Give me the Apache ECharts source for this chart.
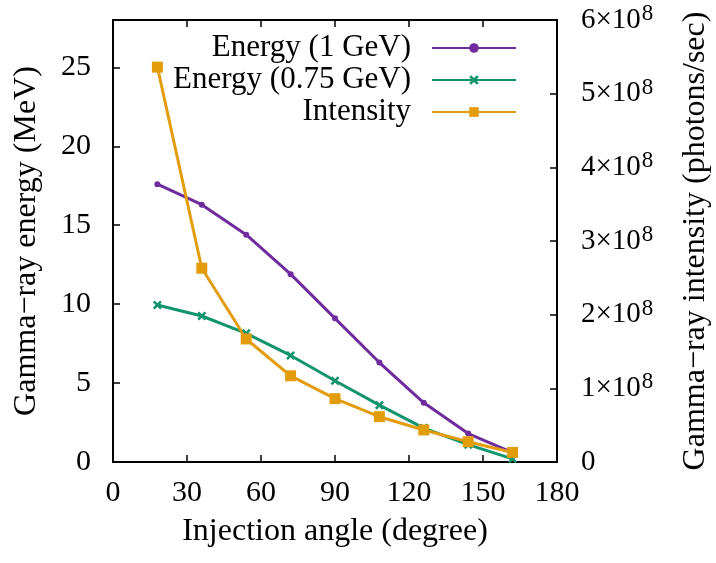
<!DOCTYPE html>
<html>
<head>
<meta charset="utf-8">
<script src="https://cdn.jsdelivr.net/npm/echarts@6/dist/echarts.min.js"></script>
<style>
html,body{margin:0;padding:0;background:#fff;}
#chart{width:716px;height:563px;}
</style>
</head>
<body>
<div id="chart"></div>
<script>
// Data
const angles = [18, 36, 54, 72, 90, 108, 126, 144, 162];
const energy1GeV = [17.6, 16.3, 14.4, 11.9, 9.1, 6.3, 3.75, 1.8, 0.6];
const energy075GeV = [9.95, 9.25, 8.15, 6.75, 5.15, 3.6, 2.15, 1.1, 0.2];
const intensity = [5.36e8, 2.63e8, 1.67e8, 1.17e8, 0.86e8, 0.615e8, 0.435e8, 0.275e8, 0.13e8];
const seriesNames = ['Energy (1 GeV)', 'Energy (0.75 GeV)', 'Intensity'];
const xTicks = [0, 30, 60, 90, 120, 150, 180];

const FONT = '"Liberation Serif", "DejaVu Serif", serif';
const purple = '#6e2c9e';
const green = '#12946c';
const orange = '#e39c0c';

function pairs(xs, ys) { return xs.map((x, i) => [x, ys[i]]); }

const crossPath = 'path://M0,2 L2,0 L5,3 L8,0 L10,2 L7,5 L10,8 L8,10 L5,7 L2,10 L0,8 L3,5 Z';

const tickStyle = {show: true, inside: true, length: 7, lineStyle: {color: '#000', width: 1.5}};
const lineStyleAxis = {show: true, onZero: false, lineStyle: {color: '#000', width: 2}};

const chart = echarts.init(document.getElementById('chart'), null, {renderer: 'canvas'});
const option = {
  animation: false,
  backgroundColor: '#fff',
  textStyle: {fontFamily: FONT},
  grid: {left: 113, right: 159, top: 20, bottom: 101, containLabel: false, outerBoundsMode: 'none',
    show: true, borderColor: '#000', borderWidth: 2, backgroundColor: 'transparent'},
  legend: {
    orient: 'vertical',
    align: 'right',
    right: 194,
    top: 27,
    itemWidth: 84,
    itemHeight: 12,
    itemGap: 0,
    textStyle: {fontFamily: FONT, fontSize: 31, color: '#000', lineHeight: 32, padding: [0, 16, 0, 0]},
    data: seriesNames
  },
  xAxis: [{
    type: 'value', min: xTicks[0], max: xTicks[xTicks.length - 1], interval: 30,
    position: 'bottom',
    name: 'Injection angle (degree)', nameLocation: 'middle', nameGap: 54,
    nameTextStyle: {fontFamily: FONT, fontSize: 32, color: '#000'},
    axisLine: lineStyleAxis,
    axisTick: tickStyle,
    axisLabel: {fontFamily: FONT, fontSize: 30, color: '#000', margin: 16},
    splitLine: {show: false}
  }, {
    type: 'value', min: xTicks[0], max: xTicks[xTicks.length - 1], interval: 30,
    position: 'top',
    axisLine: lineStyleAxis,
    axisTick: tickStyle,
    axisLabel: {show: false},
    splitLine: {show: false}
  }],
  yAxis: [{
    type: 'value', min: 0, max: 28, interval: 5,
    position: 'left',
    name: 'Gamma\u2212ray energy (MeV)', nameLocation: 'middle', nameGap: 70, nameRotate: 90,
    nameTextStyle: {fontFamily: FONT, fontSize: 32, color: '#000'},
    axisLine: lineStyleAxis,
    axisTick: tickStyle,
    axisLabel: {fontFamily: FONT, fontSize: 30, color: '#000', margin: 22,
      formatter: v => (v % 5 === 0 ? String(v) : '')},
    splitLine: {show: false}
  }, {
    type: 'value', min: 0, max: 6e8, interval: 1e8,
    position: 'right',
    name: 'Gamma\u2212ray intensity (photons/sec)', nameLocation: 'middle', nameGap: 123, nameRotate: 90,
    nameTextStyle: {fontFamily: FONT, fontSize: 32, color: '#000'},
    axisLine: lineStyleAxis,
    axisTick: tickStyle,
    axisLabel: {
      margin: 24,
      formatter: v => (v === 0 ? '{n|0}' : '{n|' + Math.round(v / 1e8) + '\u00d710}{s|8}'),
      rich: {
        n: {fontFamily: FONT, fontSize: 29, color: '#000'},
        s: {fontFamily: FONT, fontSize: 23, color: '#000', verticalAlign: 'top', padding: [0, 0, 12, 1]}
      }
    },
    splitLine: {show: false}
  }],
  series: [{
    name: seriesNames[0], type: 'line', xAxisIndex: 0, yAxisIndex: 0,
    data: pairs(angles, energy1GeV),
    symbol: 'circle', symbolSize: 6,
    lineStyle: {color: purple, width: 3},
    itemStyle: {color: purple}
  }, {
    name: seriesNames[1], type: 'line', xAxisIndex: 0, yAxisIndex: 0,
    data: pairs(angles, energy075GeV),
    symbol: crossPath, symbolSize: 9,
    lineStyle: {color: green, width: 3},
    itemStyle: {color: green}
  }, {
    name: seriesNames[2], type: 'line', xAxisIndex: 0, yAxisIndex: 1,
    data: pairs(angles, intensity),
    symbol: 'rect', symbolSize: 11,
    lineStyle: {color: orange, width: 3},
    itemStyle: {color: orange}
  }]
};
chart.setOption(option);
</script>
</body>
</html>
